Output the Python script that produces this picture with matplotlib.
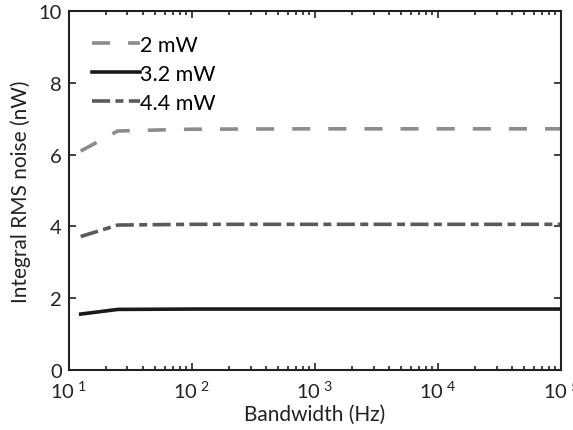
import numpy as np
import matplotlib
matplotlib.use('Agg')
import matplotlib.pyplot as plt
from matplotlib.ticker import FixedLocator, LogLocator, NullFormatter

plt.rcParams['font.family'] = ['Lato', 'DejaVu Sans']
plt.rcParams['mathtext.fontset'] = 'custom'
plt.rcParams['mathtext.rm'] = 'Lato'
plt.rcParams['mathtext.it'] = 'Lato'

# bandwidth points (Hz) and integrated noise (nW) per pump power
bandwidth = [12.5, 25, 100, 1000, 10000, 100000]
noise_2mw = [6.10, 6.66, 6.71, 6.72, 6.72, 6.72]
noise_32mw = [1.56, 1.69, 1.70, 1.70, 1.70, 1.70]
noise_44mw = [3.72, 4.04, 4.06, 4.06, 4.06, 4.06]
labels = ['2 mW', '3.2 mW', '4.4 mW']

fig = plt.figure(figsize=(5.73, 4.31), dpi=100)
ax = fig.add_axes([0.120, 0.139, 0.859, 0.833])

ax.plot(bandwidth, noise_2mw, color='#8c8c8c', lw=2.6, dashes=(5, 5), label=labels[0])
ax.plot(bandwidth, noise_32mw, color='#1a1a1a', lw=2.6, label=labels[1])
ax.plot(bandwidth, noise_44mw, color='#5a5a5a', lw=2.6, dashes=(5, 1.5, 2.2, 1.5), label=labels[2])

ax.set_xscale('log')
ax.set_xlim(10, 1e5)
ax.set_ylim(0, 10)

ax.xaxis.set_major_locator(FixedLocator([1e1, 1e2, 1e3, 1e4, 1e5]))
ax.set_xticklabels([r'$10^{\ %d}$' % e for e in range(1, 6)])
ax.xaxis.set_minor_locator(LogLocator(base=10, subs=np.arange(2, 10)))
ax.xaxis.set_minor_formatter(NullFormatter())
ax.set_yticks([0, 2, 4, 6, 8, 10])

ax.tick_params(which='both', direction='in', top=True, right=True, width=1.2,
               labelsize=14.5, colors='#222222')
ax.tick_params(axis='x', pad=7)
ax.tick_params(axis='y', pad=5)
ax.tick_params(which='major', length=5)
ax.tick_params(which='minor', length=3)
for s in ax.spines.values():
    s.set_linewidth(1.5)
    s.set_color('#222222')

ax.set_xlabel('Bandwidth (Hz)', fontsize=15, color='#222222', labelpad=2)
ax.set_ylabel('Integral RMS noise (nW)', fontsize=15, color='#222222', labelpad=5)

ax.legend(loc='upper left', frameon=False, fontsize=15.5, handlelength=2.2,
          handletextpad=0.0, labelspacing=0.42, borderaxespad=0.6,
          borderpad=0.5)

fig.savefig('out.png', dpi=100)
